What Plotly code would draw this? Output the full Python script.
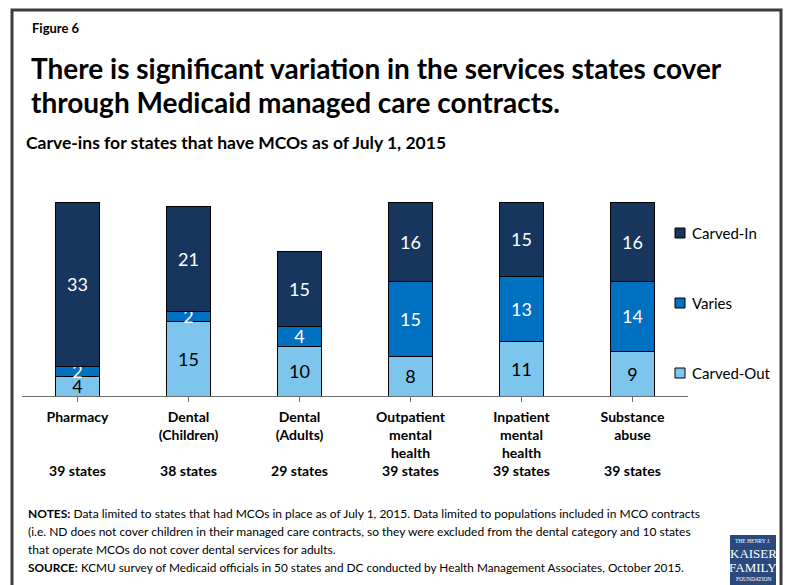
import plotly.graph_objects as go

# --- data ---
categories = ["Pharmacy", "Dental<br>(Children)", "Dental<br>(Adults)",
              "Outpatient<br>mental<br>health", "Inpatient<br>mental<br>health",
              "Substance<br>abuse"]
states = [39, 38, 29, 39, 39, 39]
carved_out = [4, 15, 10, 8, 11, 9]
varies = [2, 2, 4, 15, 13, 14]
carved_in = [33, 21, 15, 16, 15, 16]

FONT = "Lato"
W, H = 790, 585
L, T = 22, 202
PW, PH = 666, 194
R, B = W - L - PW, H - T - PH


def px(x):
    return (x - L) / PW


def py(y):
    return (T + PH - y) / PH


# category labels padded to 3 lines, then the state count
ticktext = []
for cat, n in zip(categories, states):
    lines = cat.split("<br>")
    lines += [" "] * (3 - len(lines))
    ticktext.append("<br>".join("<b>%s</b>" % s for s in lines) + "<br><b>%d states</b>" % n)

fig = go.Figure()

# name, values, fill, label colour, legend row (pixel y)
series = [
    ("Carved-Out", carved_out, "#7DC5EC", "black", 373),
    ("Varies", varies, "#0070C0", "white", 303),
    ("Carved-In", carved_in, "#17365D", "white", 233),
]
for name, vals, col, tcol, ly in series:
    fig.add_trace(go.Bar(
        x=list(range(len(categories))), y=vals, name=name,
        marker=dict(color=col, line=dict(color="black", width=1)),
        text=vals, textposition="inside", insidetextanchor="middle",
        textangle=0, constraintext="none",
        textfont=dict(family=FONT, size=18, color=tcol),
        hoverinfo="skip", showlegend=False,
    ))
    # legend drawn by hand so it sits exactly like the original
    fig.add_shape(type="rect", xref="paper", yref="paper",
                  x0=px(675), x1=px(685), y0=py(ly + 5), y1=py(ly - 5),
                  fillcolor=col, line=dict(color="black", width=1))
    fig.add_annotation(text=name, x=px(690), y=py(ly), xref="paper", yref="paper",
                       xanchor="left", yanchor="middle", showarrow=False,
                       font=dict(size=15, family=FONT, color="black"))

fig.update_layout(
    width=W, height=H,
    margin=dict(l=L, r=R, t=T, b=B, autoexpand=False),
    barmode="stack", bargap=0.595,
    paper_bgcolor="white", plot_bgcolor="white",
    font=dict(family=FONT, color="black"),
    showlegend=False,
    xaxis=dict(range=[-0.5, 5.5], tickvals=list(range(6)), ticktext=ticktext,
               tickson="boundaries", ticks="outside", ticklen=5, tickcolor="#6f6f6f",
               ticklabelstandoff=3,
               showline=True, linecolor="#6f6f6f", linewidth=1, showgrid=False,
               tickfont=dict(size=14, family=FONT, color="black")),
    yaxis=dict(range=[0, 39], visible=False),
)

annots = [
    dict(text="<b>Figure 6</b>", x=px(30), y=py(28), size=13),
    dict(text="<b>There is significant variation in the services states cover</b>",
         x=px(29), y=py(68), size=28),
    dict(text="<b>through Medicaid managed care contracts.</b>", x=px(29), y=py(102), size=28),
    dict(text="<b>Carve-ins for states that have MCOs as of July 1, 2015</b>",
         x=px(24), y=py(142), size=17.5),
    dict(text="<b>NOTES:</b> Data limited to states that had MCOs in place as of July 1, 2015. "
              "Data limited to populations included in MCO contracts", x=px(26), y=py(513), size=12),
    dict(text="(i.e. ND does not cover children in their managed care contracts, so they were "
              "excluded from the dental category and 10 states", x=px(26), y=py(531), size=12),
    dict(text="that operate MCOs do not cover dental services for adults.",
         x=px(26), y=py(549), size=12),
    dict(text="<b>SOURCE:</b> KCMU survey of Medicaid officials in 50 states and DC conducted by "
              "Health Management Associates, October 2015.", x=px(26), y=py(567), size=11.8),
]
for a in annots:
    fig.add_annotation(text=a["text"], x=a["x"], y=a["y"], xref="paper", yref="paper",
                       xanchor="left", yanchor="middle", showarrow=False,
                       font=dict(size=a["size"], family=FONT, color="black"))

# frame
fig.add_shape(type="rect", xref="paper", yref="paper", x0=px(12), x1=px(781),
              y0=py(600), y1=py(10), line=dict(color="#3c3c3c", width=3))

# logo
fig.add_shape(type="rect", xref="paper", yref="paper", x0=px(730), x1=px(776),
              y0=py(586), y1=py(535), fillcolor="#2A4A7F", line=dict(width=0))
logo = [("THE HENRY J.", 541, 5.5), ("KAISER", 553, 13), ("FAMILY", 567, 13),
        ("FOUNDATION", 579, 5.5)]
for t, y, s in logo:
    fig.add_annotation(text=t, x=px(753), y=py(y), xref="paper", yref="paper",
                       showarrow=False, xanchor="center", yanchor="middle",
                       font=dict(size=s, family="Liberation Serif", color="white"))

# drop the default page margin so the 790x585 figure fills the window exactly
fig.write_html("out.html", config={"displayModeBar": False},
               post_script="document.body.style.margin='0';"
                           "document.documentElement.style.overflow='hidden';")
